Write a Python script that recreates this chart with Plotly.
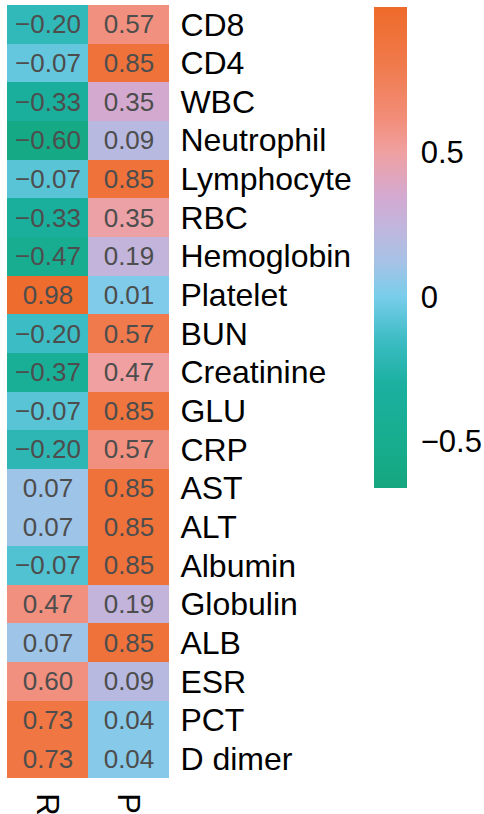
import plotly.graph_objects as go

rows = ["CD8", "CD4", "WBC", "Neutrophil", "Lymphocyte", "RBC", "Hemoglobin",
        "Platelet", "BUN", "Creatinine", "GLU", "CRP", "AST", "ALT", "Albumin",
        "Globulin", "ALB", "ESR", "PCT", "D dimer"]
cols = ["R", "P"]

# displayed values
R_vals = [-0.20, -0.07, -0.33, -0.60, -0.07, -0.33, -0.47, 0.98, -0.20, -0.37,
          -0.07, -0.20, 0.07, 0.07, -0.07, 0.47, 0.07, 0.60, 0.73, 0.73]
P_vals = [0.57, 0.85, 0.35, 0.09, 0.85, 0.35, 0.19, 0.01, 0.57, 0.47,
          0.85, 0.57, 0.85, 0.85, 0.85, 0.19, 0.85, 0.09, 0.04, 0.04]

# colour values read from the cell fills
R_fill = [-0.20, -0.05, -0.35, -0.60, -0.08, -0.35, -0.47, 0.98, -0.15, -0.40,
          -0.08, -0.22, 0.10, 0.10, -0.10, 0.60, 0.10, 0.60, 0.85, 0.85]
P_fill = [0.60, 0.90, 0.35, 0.20, 0.90, 0.48, 0.25, 0.02, 0.80, 0.50,
          0.88, 0.60, 0.90, 0.90, 0.90, 0.25, 0.90, 0.20, 0.04, 0.04]

zmin, zmax = -0.66, 1.0
stops = [(-0.66, "#16a67f"), (-0.5, "#17ad8e"), (-0.3, "#1bb0a0"), (-0.15, "#3cbcc4"),
         (0.0, "#78cdeb"), (0.12, "#a6c2e6"), (0.25, "#c3b4dc"), (0.35, "#d4a9d0"),
         (0.5, "#f0a0a0"), (0.62, "#f28d78"), (0.8, "#f07a4c"), (1.0, "#ee6a2a")]
colorscale = [[(v - zmin) / (zmax - zmin), c] for v, c in stops]

def fmt(v):
    return f"{v:.2f}".replace("-", "\u2212")

z = [[r, p] for r, p in zip(R_fill, P_fill)]
text = [[fmt(r), fmt(p)] for r, p in zip(R_vals, P_vals)]

FONT = "Liberation Sans, Arial, sans-serif"

W, H = 484, 814
ml, mr, mt, mb = 7, 315, 5, 36
pw = W - ml - mr
ph = H - mt - mb

fig = go.Figure(go.Heatmap(
    z=z, x=cols, y=rows, text=text, texttemplate="%{text}",
    textfont=dict(family=FONT, size=26, color="#4d4d4d"),
    colorscale=colorscale, zmin=zmin, zmax=zmax, showscale=True,
    colorbar=dict(
        x=(374 - ml) / pw, xanchor="left", xpad=0,
        y=(H - mb - 7) / ph, yanchor="top", ypad=0,
        thickness=33, lenmode="pixels", len=481,
        outlinewidth=0,
        tickvals=[-0.5, 0, 0.5], ticktext=["\u22120.5", "0", "0.5"],
        ticks="outside", ticklen=8, tickcolor="rgba(0,0,0,0)",
        tickfont=dict(family=FONT, size=31, color="black"),
    ),
    hoverinfo="skip",
))

fig.update_layout(
    width=W, height=H,
    margin=dict(l=ml, r=mr, t=mt, b=mb, autoexpand=False),
    paper_bgcolor="white", plot_bgcolor="white",
    font=dict(family=FONT, color="black"),
)
fig.update_xaxes(tickangle=90, showgrid=False, zeroline=False, automargin=False,
                 ticks="outside", ticklen=8, tickcolor="rgba(0,0,0,0)",
                 tickfont=dict(family=FONT, size=31, color="black"))
fig.update_yaxes(autorange="reversed", side="right", showgrid=False, zeroline=False,
                 automargin=False, ticks="outside", ticklen=4, tickcolor="rgba(0,0,0,0)",
                 tickfont=dict(family=FONT, size=32, color="black"))

fig.write_html("out.html", config={"displayModeBar": False},
               post_script="document.body.style.margin='0';document.body.style.overflow='hidden';")
